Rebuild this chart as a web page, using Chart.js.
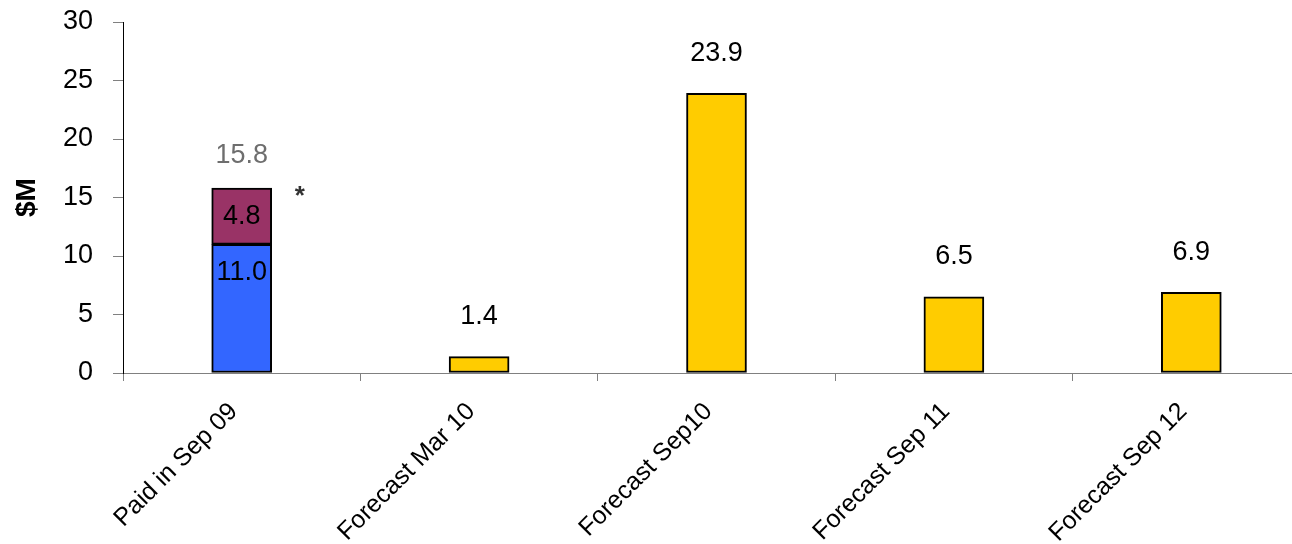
<!DOCTYPE html>
<html>
<head>
<meta charset="utf-8">
<script src="https://cdn.jsdelivr.net/npm/chart.js@4"></script>
<style>
  html, body { margin: 0; padding: 0; background: #fff; overflow: hidden; }
  #wrap { width: 1310px; height: 544px; }
</style>
</head>
<body>
<div id="wrap"><canvas id="payChart" width="1310" height="544"></canvas></div>
<script>
// chart data
const categories = ["Paid in Sep 09", "Forecast Mar 10", "Forecast Sep10", "Forecast Sep 11", "Forecast Sep 12"];
const paidMain = [11.0, null, null, null, null];
const paidExtra = [4.8, null, null, null, null];
const forecast = [null, 1.4, 23.9, 6.5, 6.9];
const yTicks = [0, 5, 10, 15, 20, 25, 30];

const FONT = "'Liberation Sans', Arial, sans-serif";

// value labels drawn over / above the bars
const labelPlugin = {
  id: "barLabels",
  afterDatasetsDraw(chart) {
    const ctx = chart.ctx;
    ctx.save();
    ctx.textAlign = "center";
    ctx.textBaseline = "middle";
    ctx.font = "27px " + FONT;

    const mainBars = chart.getDatasetMeta(0).data;
    const extraBars = chart.getDatasetMeta(1).data;
    const fcBars = chart.getDatasetMeta(2).data;

    mainBars.forEach((bar, i) => {
      if (paidMain[i] == null) return;
      ctx.fillStyle = "#000";
      ctx.fillText(paidMain[i].toFixed(1), bar.x, bar.y + 28);
    });
    extraBars.forEach((bar, i) => {
      if (paidExtra[i] == null) return;
      ctx.fillStyle = "#000";
      ctx.fillText(paidExtra[i].toFixed(1), bar.x, (bar.y + bar.base) / 2);
      // total above the stack
      const total = paidMain[i] + paidExtra[i];
      ctx.fillStyle = "#6e6e6e";
      ctx.fillText(total.toFixed(1), bar.x, bar.y - 33);
      ctx.fillStyle = "#333";
      ctx.font = "bold 26px " + FONT;
      ctx.fillText("*", bar.x + 58, bar.y + 9);
      ctx.font = "27px " + FONT;
    });
    fcBars.forEach((bar, i) => {
      if (forecast[i] == null) return;
      ctx.fillStyle = "#000";
      ctx.fillText(forecast[i].toFixed(1), bar.x, bar.y - 40);
    });
    ctx.restore();
  }
};

const barStyle = { borderColor: "#000", borderWidth: 2, borderSkipped: false, barThickness: 60, stack: "s" };

new Chart(document.getElementById("payChart"), {
  type: "bar",
  data: {
    labels: categories,
    datasets: [
      { label: "Paid", data: paidMain, backgroundColor: "#3366FF", ...barStyle },
      { label: "Paid other", data: paidExtra, backgroundColor: "#993366", ...barStyle },
      { label: "Forecast", data: forecast, backgroundColor: "#FFCC00", ...barStyle }
    ]
  },
  options: {
    responsive: false,
    animation: false,
    layout: { padding: { top: 22, right: 0, bottom: 0, left: 0 } },
    plugins: { legend: { display: false }, tooltip: { enabled: false } },
    scales: {
      x: {
        stacked: true,
        grid: { offset: true, drawOnChartArea: false, tickLength: 8, color: "#808080" },
        border: { color: "#808080", width: 1 },
        ticks: {
          color: "#000",
          font: { family: FONT, size: 25 },
          maxRotation: 45,
          minRotation: 45,
          padding: 16,
          labelOffset: -8
        },
        afterFit(scale) { scale.height = 171; }
      },
      y: {
        stacked: true,
        min: 0,
        max: 30,
        afterBuildTicks(scale) { scale.ticks = yTicks.map(v => ({ value: v })); },
        grid: { drawOnChartArea: false, tickLength: 10, color: "#808080" },
        border: { color: "#000", width: 1 },
        ticks: { color: "#000", font: { family: FONT, size: 27 }, padding: 20 },
        title: {
          display: true,
          text: "$M",
          color: "#000",
          font: { family: FONT, size: 28, weight: "bold" },
          padding: { top: 10, bottom: 0 }
        },
        afterFit(scale) {
          scale.width = 123;
          // tick padding should not push the plot area down
          scale.paddingTop = 0;
          scale.paddingBottom = 0;
        }
      }
    }
  },
  plugins: [labelPlugin]
});
</script>
</body>
</html>
